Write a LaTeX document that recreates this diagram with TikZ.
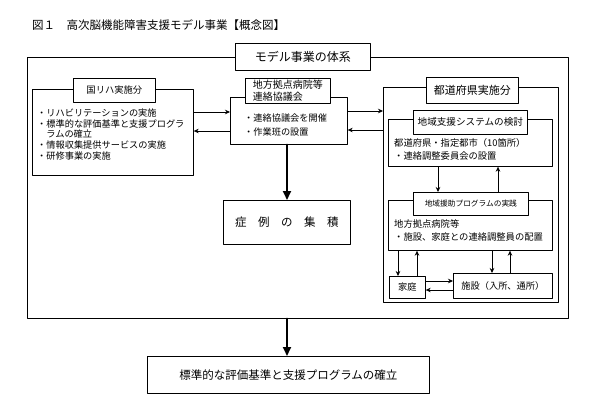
\documentclass[tikz,border=0pt]{standalone}
\usepackage{fontspec}
\setmainfont{Noto Sans CJK JP}
\usetikzlibrary{arrows.meta}

\begin{document}
\begin{tikzpicture}[x=1pt, y=-1pt, line cap=round, line join=round,
  frame/.style={draw, line width=0.7pt, anchor=north west, inner sep=0pt},
  head/.style={frame, fill=white, align=center},
  txt/.style={anchor=west, inner sep=0pt, align=left},
  arr/.style={-{Stealth[length=5pt,width=4.5pt]}, line width=0.6pt},
  bigarr/.style={-{Triangle[length=9pt,width=8pt]}, line width=2pt}]
  \useasboundingbox (0,0) rectangle (600,405);

  % Title
  \node[anchor=west, inner sep=0pt, font=\fontsize{11.5}{13}\selectfont] (title) at (32,25)
    {図１　高次脳機能障害支援モデル事業【概念図】};

  % Frames
  \node[frame, minimum width=541pt, minimum height=261pt] (outer) at (27,57) {};
  \node[frame, minimum width=161pt, minimum height=86pt] (rihaframe) at (32,89) {};
  \node[frame, minimum width=117pt, minimum height=47pt] (kyotenframe) at (230,97) {};
  \node[frame, minimum width=175pt, minimum height=215pt] (prefframe) at (383,87) {};
  \node[frame, minimum width=164pt, minimum height=47pt] (sysframe) at (388,119) {};
  \node[frame, minimum width=164pt, minimum height=50pt] (progframe) at (388,200) {};

  % Headings
  \node[head, minimum width=135pt, minimum height=27pt, font=\fontsize{12}{14}\selectfont]
    (taikei) at (235,43) {モデル事業の体系};
  \node[head, minimum width=82pt, minimum height=24pt, font=\fontsize{9.3}{11}\selectfont]
    (riha) at (73,78) {国リハ実施分};
  \node[head, minimum width=85pt, minimum height=25pt, font=\fontsize{10}{12}\selectfont, align=left]
    (kyoten) at (245,78) {地方拠点病院等\\連絡協議会};
  \node[head, minimum width=92pt, minimum height=26pt, font=\fontsize{11}{13}\selectfont]
    (pref) at (426,77) {都道府県実施分};
  \node[head, minimum width=114pt, minimum height=24pt, font=\fontsize{9.6}{11}\selectfont]
    (sys) at (413,110) {地域支援システムの検討};
  \node[head, minimum width=115pt, minimum height=23pt, font=\fontsize{7.7}{9}\selectfont]
    (prog) at (413,192) {地域援助プログラムの実践};

  % Frame texts
  \node[txt, font=\fontsize{9.2}{10.75}\selectfont] (rihatext) at (37,134.5)
    {・リハビリテーションの実施\\・標準的な評価基準と支援プログラ\\\phantom{・}ラムの確立\\・情報収集提供サービスの実施\\・研修事業の実施};
  \node[txt, font=\fontsize{9.2}{14}\selectfont] (kyotentext) at (244,125)
    {・連絡協議会を開催\\・作業班の設置};
  \node[txt, font=\fontsize{9.3}{13}\selectfont] (systext) at (394,149.5)
    {都道府県・指定都市（10箇所）\\・連絡調整委員会の設置};
  \node[txt, font=\fontsize{9.3}{13}\selectfont] (progtext) at (394,230.5)
    {地方拠点病院等\\・施設、家庭との連絡調整員の配置};

  % Boxes
  \node[frame, minimum width=127pt, minimum height=44pt, font=\fontsize{11.5}{13}\selectfont]
    (case) at (223,200) {症　例　の　集　積};
  \node[frame, minimum width=36pt, minimum height=22pt, font=\fontsize{9.2}{11}\selectfont]
    (katei) at (389,276) {家庭};
  \node[frame, minimum width=99pt, minimum height=25pt, font=\fontsize{9.2}{11}\selectfont]
    (shisetsu) at (453,273) {施設（入所、通所）};
  \node[frame, minimum width=282pt, minimum height=37pt, font=\fontsize{11.5}{13}\selectfont]
    (result) at (147,356) {標準的な評価基準と支援プログラムの確立};

  % Connectors
  \draw[arr] (rihaframe.east |- 0,112) -- (kyotenframe.west |- 0,112);
  \draw[arr] (kyotenframe.west |- 0,131) -- (rihaframe.east |- 0,131);
  \draw[arr] (kyotenframe.east |- 0,111) -- (prefframe.west |- 0,111);
  \draw[arr] (prefframe.west |- 0,130) -- (kyotenframe.east |- 0,130);
  \draw[bigarr] (kyotenframe.south -| 287,0) -- (case.north -| 287,0);

  \draw[arr] (sysframe.south -| 438,0) -- (prog.north -| 438,0);
  \draw[arr] (prog.north -| 498,0) -- (sysframe.south -| 498,0);
  \draw[arr] (progframe.south -| 398,0) -- (katei.north -| 398,0);
  \draw[arr] (katei.north -| 417,0) -- (progframe.south -| 417,0);
  \draw[arr] (progframe.south -| 492,0) -- (shisetsu.north -| 492,0);
  \draw[arr] (shisetsu.north -| 510,0) -- (progframe.south -| 510,0);
  \draw[arr] (katei.east |- 0,281) -- (shisetsu.west |- 0,281);
  \draw[arr] (shisetsu.west |- 0,290) -- (katei.east |- 0,290);

  \draw[bigarr] (outer.south -| 287,0) -- (result.north -| 287,0);
\end{tikzpicture}
\end{document}
